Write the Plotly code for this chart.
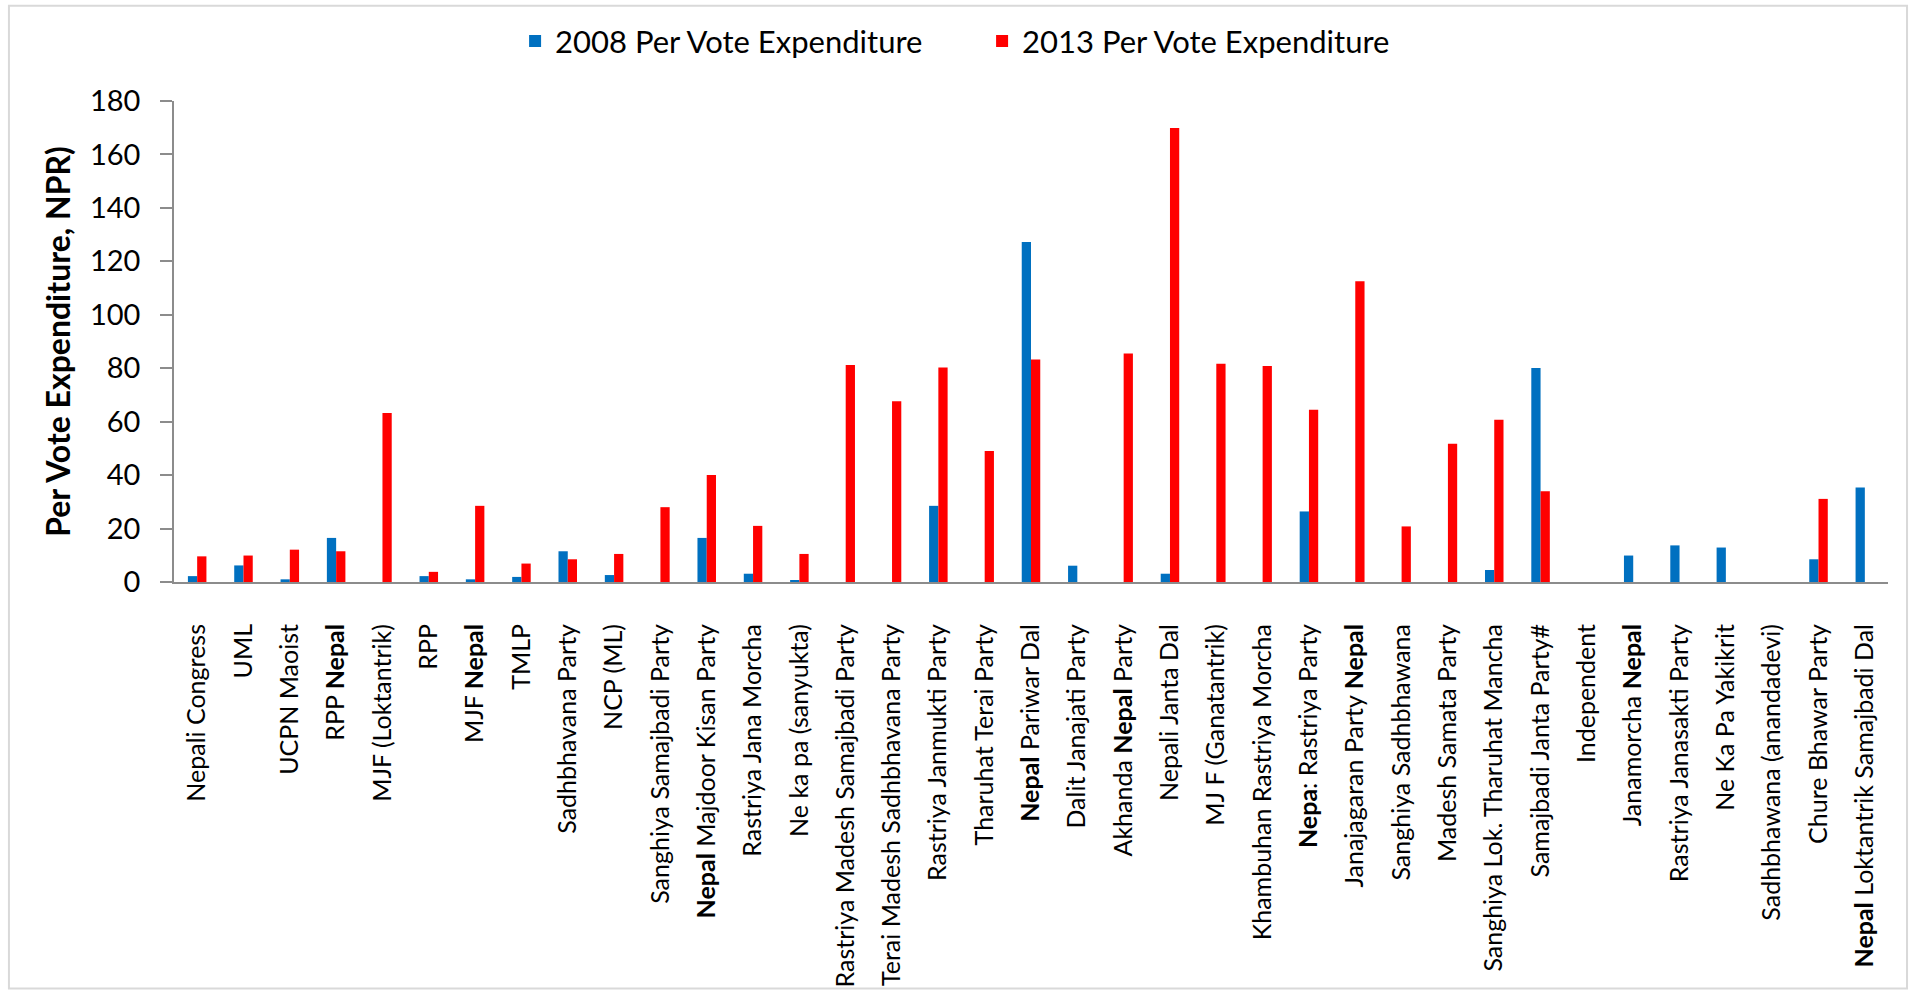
import plotly.graph_objects as go

categories = ["Nepali Congress", "UML", "UCPN Maoist", "RPP Nepal", "MJF (Loktantrik)", "RPP",
              "MJF Nepal", "TMLP", "Sadhbhavana Party", "NCP (ML)", "Sanghiya Samajbadi Party",
              "Nepal Majdoor Kisan Party", "Rastriya Jana Morcha", "Ne ka pa (sanyukta)",
              "Rastriya Madesh Samajbadi Party", "Terai Madesh Sadhbhavana Party",
              "Rastriya Janmukti Party", "Tharuhat Terai Party", "Nepal Pariwar Dal",
              "Dalit Janajati Party", "Akhanda Nepal Party", "Nepali Janta Dal",
              "MJ F (Ganatantrik)", "Khambuhan Rastriya Morcha", "Nepa: Rastriya Party",
              "Janajagaran Party Nepal", "Sanghiya Sadhbhawana", "Madesh Samata Party",
              "Sanghiya Lok. Tharuhat Mancha", "Samajbadi Janta Party#", "Independent",
              "Janamorcha Nepal", "Rastriya Janasakti Party", "Ne Ka Pa Yakikrit",
              "Sadhbhawana (anandadevi)", "Chure Bhawar Party", "Nepal Loktantrik Samajbadi Dal"]

tick_labels = ["Nepali Congress", "UML", "UCPN Maoist", "RPP <b>Nepal</b>", "MJF (Loktantrik)", "RPP",
               "MJF <b>Nepal</b>", "TMLP", "Sadhbhavana Party", "NCP (ML)", "Sanghiya Samajbadi Party",
               "<b>Nepal</b> Majdoor Kisan Party", "Rastriya Jana Morcha", "Ne ka pa (sanyukta)",
               "Rastriya Madesh Samajbadi Party", "Terai Madesh Sadhbhavana Party",
               "Rastriya Janmukti Party", "Tharuhat Terai Party", "<b>Nepal</b> Pariwar Dal",
               "Dalit Janajati Party", "Akhanda <b>Nepal</b> Party", "Nepali Janta Dal",
               "MJ F (Ganatantrik)", "Khambuhan Rastriya Morcha", "<b>Nepa</b>: Rastriya Party",
               "Janajagaran Party <b>Nepal</b>", "Sanghiya Sadhbhawana", "Madesh Samata Party",
               "Sanghiya Lok. Tharuhat Mancha", "Samajbadi Janta Party#", "Independent",
               "Janamorcha <b>Nepal</b>", "Rastriya Janasakti Party", "Ne Ka Pa Yakikrit",
               "Sadhbhawana (anandadevi)", "Chure Bhawar Party", "<b>Nepal</b> Loktantrik Samajbadi Dal"]

exp_2008 = [2.2, 6.2, 1.0, 16.5, None, 2.2, 1.0, 1.9, 11.5, 2.6, None, 16.5, 3.1, 0.4,
            None, None, 28.5, None, 127.2, 6.1, None, 3.1, None, None, 26.4, None, None,
            None, 4.5, 80.1, None, 9.9, 13.7, 12.9, None, 8.5, 35.4]

exp_2013 = [9.6, 9.9, 12.1, 11.5, 63.2, 3.8, 28.5, 6.9, 8.5, 10.5, 28.0, 40.0, 21.0, 10.5,
            81.2, 67.6, 80.3, 49.0, 83.3, None, 85.5, 169.9, 81.7, 80.8, 64.5, 112.5, 20.8,
            51.7, 60.7, 34.0, None, None, None, None, None, 31.1, None]

y_ticks = [0, 20, 40, 60, 80, 100, 120, 140, 160, 180]

FONT = "Lato"

fig = go.Figure()
fig.add_trace(go.Bar(x=categories, y=exp_2008, name="2008 Per Vote Expenditure",
                     marker=dict(color="#0070C0", line=dict(width=0))))
fig.add_trace(go.Bar(x=categories, y=exp_2013, name="2013 Per Vote Expenditure",
                     marker=dict(color="#FF0000", line=dict(width=0))))

fig.update_layout(
    width=1911, height=1000, autosize=False,
    margin=dict(l=174, r=23, t=101, b=414, pad=0),
    paper_bgcolor="white", plot_bgcolor="white",
    barmode="group", bargap=0.6, bargroupgap=0,
    font=dict(family=FONT, color="black"),
    showlegend=True,
    legend=dict(orientation="h", x=0.199, xanchor="left", y=1.124, yanchor="middle",
                font=dict(family=FONT, size=31, color="black"), entrywidth=422,
                bgcolor="rgba(0,0,0,0)"),
    xaxis=dict(tickmode="array", tickvals=categories, ticktext=tick_labels,
               tickangle=-90, tickfont=dict(family=FONT, size=25, color="black"),
               showline=True, linecolor="#8c8c8c", linewidth=2, ticks="",
               showgrid=False, ticklabelstandoff=30),
    yaxis=dict(range=[0, 180], tickvals=y_ticks, ticks="outside", ticklen=12,
               tickcolor="#8c8c8c", tickwidth=1.5, showline=True, linecolor="#8c8c8c",
               linewidth=1.5, showgrid=False, zeroline=False,
               tickfont=dict(family=FONT, size=29, color="black"), ticklabelstandoff=14,
               title=dict(text="<b>Per Vote Expenditure, NPR)</b>",
                          font=dict(family=FONT, size=32, color="black"), standoff=10)),
    shapes=[dict(type="rect", xref="paper", yref="paper",
                 x0=-0.0963, x1=1.0111, y0=-0.845, y1=1.198,
                 line=dict(color="#d9d9d9", width=2), fillcolor="rgba(0,0,0,0)", layer="below")],
)

fig.write_html("out.html")
